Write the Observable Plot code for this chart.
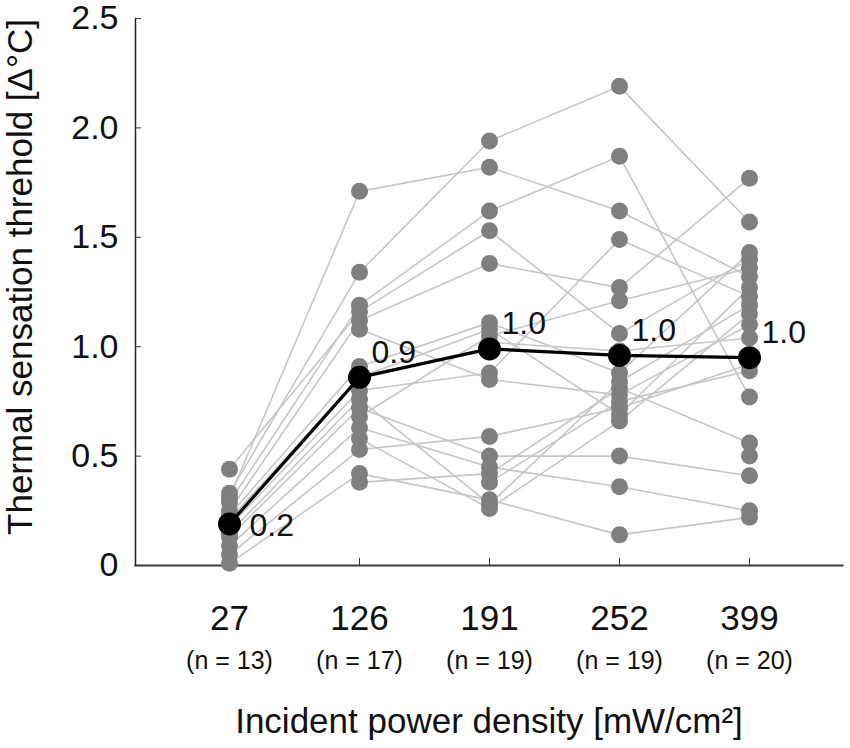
<!DOCTYPE html>
<html>
<head>
<meta charset="utf-8">
<script src="https://cdn.jsdelivr.net/npm/d3@7"></script>
<script src="https://cdn.jsdelivr.net/npm/@observablehq/plot@0.6"></script>
<style>
  body { margin: 0; background: #fff; }
  svg { font-family: "Liberation Sans", Arial, Helvetica, sans-serif; }
</style>
</head>
<body>
<div id="chart"></div>
<script>
// Categories (incident power density, mW/cm²) and group sizes
const levels = ["27", "126", "191", "252", "399"];
const nCounts = [13, 17, 19, 19, 20];

// Individual thresholds per subject at each level (null = not tested)
const subjects = [
  [0.44, 1.16, 1.53, 1.06, 1.40],
  [0.33, 1.34, 1.94, 2.19, 1.57],
  [0.31, 1.71, 1.82, 1.62, 1.32],
  [0.29, 1.19, 1.62, 1.87, 0.77],
  [0.25, 1.12, 1.38, 1.27, 1.77],
  [0.23, 0.91, 1.11, 0.88, 1.43],
  [0.21, 0.86, 1.08, 0.69, 1.27],
  [0.18, 0.80, 0.88, 1.49, 1.23],
  [0.15, 0.76, 0.28, 0.84, 1.19],
  [0.13, 0.72, 0.50, 0.50, 0.41],
  [0.09, 0.63, 0.45, 0.36, 0.25],
  [0.05, 0.53, 0.59, 0.72, 0.92],
  [0.01, 0.42, 0.30, 0.14, 0.22],
  [null, 1.08, 0.85, 0.78, 1.10],
  [null, 0.68, 1.05, 1.21, 1.36],
  [null, 0.58, 0.26, 0.66, 1.15],
  [null, 0.38, 0.42, 0.81, 0.56],
  [null, null, 1.02, 0.98, 1.04],
  [null, null, 0.38, 0.75, 0.89],
  [null, null, null, null, 0.50]
];

// Group means and their printed labels
const means = [0.19, 0.86, 0.99, 0.96, 0.95];
const meanLabels = ["0.2", "0.9", "1.0", "1.0", "1.0"];

const yTicks = [0, 0.5, 1.0, 1.5, 2.0, 2.5];
const xLabel = "Incident power density [mW/cm²]";
const yLabel = "Thermal sensation threhold [Δ°C]";

// Tidy tables
const tidy = subjects.flatMap((vals, s) =>
  vals.map((v, i) => ({subject: s, level: levels[i], value: v})));
const pts = tidy.filter(d => d.value != null);
const meanData = levels.map((l, i) => ({level: l, value: means[i], label: meanLabels[i], n: nCounts[i], i}));

const chart = Plot.plot({
  width: 850,
  height: 748,
  marginLeft: 135,
  marginRight: 8,
  marginTop: 18,
  marginBottom: 183,
  style: {fontFamily: "'Liberation Sans', Arial, Helvetica, sans-serif", color: "#000", background: "#fff"},
  x: {type: "point", domain: levels, padding: 0.7, axis: null},
  y: {domain: [0, 2.5], axis: null},
  marks: [
    // axis lines
    Plot.frame({anchor: "bottom", stroke: "#3a3a3a", strokeWidth: 2}),
    Plot.frame({anchor: "left", stroke: "#222", strokeWidth: 1.5}),
    // inward ticks
    Plot.axisY({ticks: yTicks, tickSize: -6, tickFormat: () => "", label: null, stroke: "#333"}),
    Plot.axisX({tickSize: -7, tickFormat: () => "", label: null, stroke: "#333"}),
    // tick labels
    Plot.axisY({ticks: yTicks, tickSize: 0, tickPadding: 17, fontSize: 34, label: null,
      tickFormat: d => d === 0 ? "0" : d.toFixed(1), fill: "#111"}),
    Plot.axisX({tickSize: 0, tickPadding: 40, fontSize: 35, label: null, fill: "#111"}),
    Plot.text(meanData, {x: "level", text: d => `(n = ${d.n})`, frameAnchor: "bottom",
      lineAnchor: "top", dy: 86, fontSize: 25, fill: "#111"}),
    Plot.text([xLabel], {frameAnchor: "bottom", textAnchor: "middle", lineAnchor: "top", dy: 143, fontSize: 35, fill: "#111"}),
    Plot.text([yLabel], {frameAnchor: "left", textAnchor: "middle", rotate: -90, lineAnchor: "middle", dx: -115, dy: -15, fontSize: 35, fill: "#111"}),
    // individual subjects
    Plot.line(tidy, {x: "level", y: "value", z: "subject", stroke: "#c6c6c6", strokeWidth: 1.6}),
    Plot.dot(pts, {x: "level", y: "value", r: 8.5, fill: "#7f7f7f"}),
    // means
    Plot.line(meanData, {x: "level", y: "value", stroke: "#000", strokeWidth: 3.2}),
    Plot.dot(meanData, {x: "level", y: "value", r: 11.5, fill: "#000"}),
    Plot.text(meanData.filter(d => d.i === 0), {x: "level", y: "value", text: "label",
      textAnchor: "start", lineAnchor: "middle", dx: 20, dy: 2, fontSize: 32, fill: "#111"}),
    Plot.text(meanData.filter(d => d.i > 0), {x: "level", y: "value", text: "label",
      textAnchor: "start", lineAnchor: "middle", dx: 12, dy: -25, fontSize: 32, fill: "#111"})
  ]
});
document.getElementById("chart").appendChild(chart);
</script>
</body>
</html>
